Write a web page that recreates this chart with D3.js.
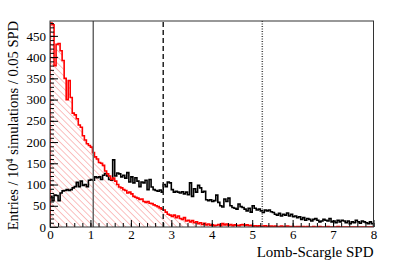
<!DOCTYPE html>
<html>
<head>
<meta charset="utf-8">
<script src="https://cdn.jsdelivr.net/npm/d3@7"></script>
<style>
  body { margin: 0; background: #fff; }
  text { font-family: "Liberation Serif", "DejaVu Serif", serif; }
</style>
</head>
<body>
<div id="chart"></div>
<script>
var width = 415;
var height = 266;

// bin width 0.05, 160 bins from 0 to 8
var binWidth = 0.05;

// null hypothesis (red, hatched)
var redCounts = [
  480, 476, 380, 430, 432, 415, 392, 350, 300, 345,
  305, 268, 264, 255, 240, 235, 215, 205, 196, 192,
  188, 175, 165, 160, 152, 150, 145, 132, 125, 120,
  112, 115, 108, 100, 94, 92, 88, 86, 80, 82,
  78, 72, 70, 68, 65, 66, 60, 58, 60, 56,
  55, 52, 50, 48, 45, 42, 40, 35, 30, 28,
  25, 28, 22, 26, 20, 18, 22, 14, 16, 12,
  15, 10, 12, 8, 10, 6, 9, 5, 7, 4,
  5, 3, 4, 6, 3, 8, 5, 7, 4, 6,
  3, 5, 4, 3, 5, 6, 4, 5, 3, 4,
  2, 3, 2, 3, 1, 2, 3, 1, 2, 2,
  1, 2, 1, 1, 2, 1, 1, 2, 1, 1,
  1, 0, 1, 1, 0, 1, 0, 1, 0, 0,
  1, 0, 0, 1, 0, 0, 0, 1, 0, 0,
  0, 0, 1, 0, 0, 0, 0, 0, 0, 0,
  0, 0, 0, 0, 0, 0, 0, 0, 0, 0
];

// signal simulations (black)
var blackCounts = [
  72, 62, 75, 74, 62, 80, 85, 86, 88, 86,
  88, 92, 95, 105, 95, 108, 98, 100, 95, 110,
  112, 110, 118, 116, 118, 112, 122, 126, 120, 112,
  110, 158, 120, 127, 125, 118, 122, 115, 128, 106,
  118, 104, 116, 108, 95, 106, 104, 110, 88, 112,
  94, 88, 86, 84, 87, 82, 100, 95, 106, 104,
  88, 82, 84, 82, 80, 83, 78, 82, 76, 104,
  72, 90, 82, 98, 92, 82, 84, 64, 62, 64,
  60, 62, 75, 58, 50, 47, 66, 60, 68, 50,
  46, 44, 42, 54, 48, 46, 42, 38, 44, 35,
  50, 44, 40, 42, 38, 34, 40, 38, 40, 36,
  34, 30, 28, 32, 26, 30, 28, 33, 26, 30,
  24, 26, 22, 24, 18, 22, 16, 20, 18, 14,
  18, 20, 16, 12, 14, 18, 16, 14, 20, 12,
  14, 10, 16, 12, 16, 14, 10, 14, 8, 12,
  10, 16, 12, 9, 14, 12, 10, 8, 12, 8
];

// vertical reference lines
var refLines = [
  { x: 1.07, dash: null, color: "#666" },
  { x: 2.80, dash: "5,3", color: "#222" },
  { x: 5.25, dash: "1,1.5", color: "#444" }
];

var xTicks = [0, 1, 2, 3, 4, 5, 6, 7, 8];
var yTicks = [0, 50, 100, 150, 200, 250, 300, 350, 400, 450];

var margin = { left: 50, right: 41.5, top: 21, bottom: 39 };
var x = d3.scaleLinear().domain([0, 8]).range([margin.left, width - margin.right]);
var y = d3.scaleLinear().domain([0, 485]).range([height - margin.bottom, margin.top]);

var svg = d3.select("#chart")
    .append("svg")
    .attr("width", width)
    .attr("height", height);

var defs = svg.append("defs");
var pat = defs.append("pattern")
    .attr("id", "hatch")
    .attr("patternUnits", "userSpaceOnUse")
    .attr("width", 4.5)
    .attr("height", 4.5)
    .attr("patternTransform", "rotate(-45)");
pat.append("line")
    .attr("x1", 0).attr("y1", 0)
    .attr("x2", 0).attr("y2", 4.5)
    .attr("stroke", "#f25555")
    .attr("stroke-width", 1)
    .attr("stroke-opacity", 0.75);

function stepPoints(counts) {
    var pts = [[0, 0]];
    counts.forEach(function(v, i) {
        pts.push([i * binWidth, v]);
        pts.push([(i + 1) * binWidth, v]);
    });
    pts.push([counts.length * binWidth, 0]);
    return pts;
}

var line = d3.line()
    .x(function(d) { return x(d[0]); })
    .y(function(d) { return y(d[1]); });

var clip = defs.append("clipPath").attr("id", "frame");
clip.append("rect")
    .attr("x", x(0)).attr("y", y(485))
    .attr("width", x(8) - x(0)).attr("height", y(0) - y(485));

var plot = svg.append("g").attr("clip-path", "url(#frame)");

// red hatched area
plot.append("path")
    .attr("d", line(stepPoints(redCounts)) + "Z")
    .attr("fill", "url(#hatch)")
    .attr("stroke", "none");

// black histogram
plot.append("path")
    .attr("d", line(stepPoints(blackCounts)))
    .attr("fill", "none")
    .attr("stroke", "#000")
    .attr("stroke-width", 1.6);

// red outline
plot.append("path")
    .attr("d", line(stepPoints(redCounts)))
    .attr("fill", "none")
    .attr("stroke", "#ff0000")
    .attr("stroke-width", 1.6);

// reference lines
svg.selectAll(".ref")
    .data(refLines)
    .enter()
    .append("line")
    .attr("x1", function(d) { return x(d.x); })
    .attr("x2", function(d) { return x(d.x); })
    .attr("y1", y(0))
    .attr("y2", y(485))
    .attr("stroke", function(d) { return d.color; })
    .attr("stroke-width", 1.5)
    .attr("stroke-dasharray", function(d) { return d.dash; });

// axes, ROOT style: ticks inside the frame
var xAxis = d3.axisBottom(x).tickValues(xTicks).tickFormat(d3.format("d"))
    .tickSizeInner(-7).tickSizeOuter(0).tickPadding(3);
var xMinor = d3.axisBottom(x).tickValues(d3.range(0, 8.01, 0.2))
    .tickFormat("").tickSizeInner(-4).tickSizeOuter(0);
var yAxis = d3.axisLeft(y).tickValues(yTicks).tickFormat(d3.format("d"))
    .tickSizeInner(-8).tickSizeOuter(0).tickPadding(4);
var yMinor = d3.axisLeft(y).tickValues(d3.range(0, 481, 10))
    .tickFormat("").tickSizeInner(-4).tickSizeOuter(0);

function styleAxis(g) {
    g.select(".domain").remove();
    g.selectAll("line").attr("stroke", "#000").attr("stroke-width", 1);
    g.selectAll("text").attr("font-size", 13).attr("fill", "#000")
        .attr("font-family", "Liberation Serif");
}

svg.append("g").attr("transform", "translate(0," + y(0) + ")").call(xMinor).call(styleAxis);
svg.append("g").attr("transform", "translate(0," + y(0) + ")").call(xAxis).call(styleAxis);
svg.append("g").attr("transform", "translate(" + x(0) + ",0)").call(yMinor).call(styleAxis);
svg.append("g").attr("transform", "translate(" + x(0) + ",0)").call(yAxis).call(styleAxis);

// frame
svg.append("rect")
    .attr("x", x(0)).attr("y", y(485))
    .attr("width", x(8) - x(0)).attr("height", y(0) - y(485))
    .attr("fill", "none")
    .attr("stroke", "#333")
    .attr("stroke-width", 1);

// titles
svg.append("text")
    .attr("x", x(8))
    .attr("y", 257)
    .attr("text-anchor", "end")
    .attr("font-size", 15)
    .text("Lomb-Scargle SPD");

var yt = svg.append("text")
    .attr("transform", "translate(18," + y(485) + ") rotate(-90)")
    .attr("text-anchor", "end")
    .attr("font-size", 14.5);
yt.append("tspan").text("Entries / 10");
yt.append("tspan").attr("dy", -5).attr("font-size", 10).text("4");
yt.append("tspan").attr("dy", 5).text(" simulations / 0.05 SPD");
</script>
</body>
</html>
